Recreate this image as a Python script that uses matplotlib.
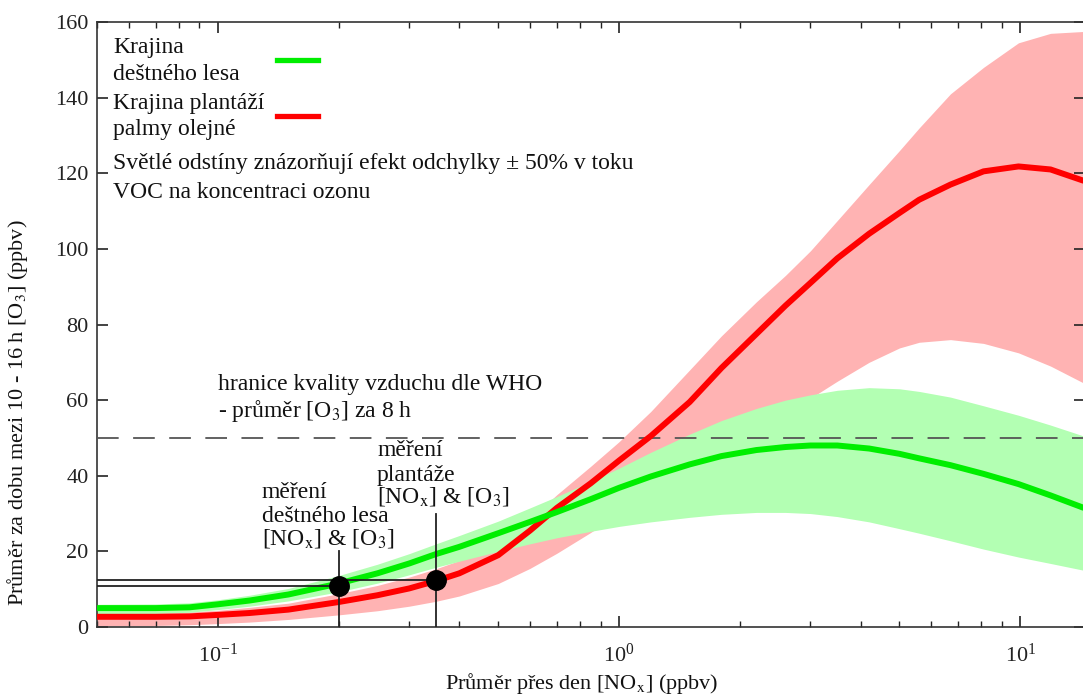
import matplotlib
matplotlib.use("Agg")
import matplotlib.pyplot as plt
from matplotlib.ticker import FixedLocator, LogLocator, NullFormatter

plt.rcParams['font.family'] = ['Liberation Serif', 'DejaVu Serif']
plt.rcParams['mathtext.fontset'] = 'stix'

# ---- data ----
nox = [0.05, 0.07, 0.085, 0.1, 0.12, 0.15, 0.2, 0.25, 0.3, 0.35, 0.4, 0.5, 0.6, 0.7, 0.85,
       1.0, 1.2, 1.5, 1.8, 2.2, 2.6, 3.0, 3.5, 4.2, 5.0, 5.6, 6.7, 8.1, 9.9, 11.9, 14.4]
rain_mean = [5.0, 5.0, 5.2, 6.0, 7.0, 8.6, 11.5, 14.2, 16.8, 19.3, 21.2, 24.8, 27.8, 30.4, 33.8,
             36.8, 39.8, 43.0, 45.2, 46.8, 47.6, 48.0, 48.0, 47.2, 45.8, 44.6, 42.8, 40.5, 37.8, 34.8, 31.5]
rain_hi = [6.0, 6.1, 6.4, 7.2, 8.4, 10.2, 13.6, 16.6, 19.4, 22.0, 24.2, 28.0, 31.5, 34.5, 38.5,
           42.0, 46.2, 51.0, 54.6, 57.8, 60.0, 61.4, 62.6, 63.3, 63.0, 62.3, 60.8, 58.5, 56.0, 53.4, 50.5]
rain_lo = [3.5, 3.6, 3.9, 4.6, 5.5, 6.9, 9.3, 11.6, 13.8, 15.8, 17.4, 20.0, 22.0, 23.6, 25.3,
           26.6, 27.8, 29.0, 29.8, 30.3, 30.3, 30.0, 29.2, 27.8, 26.0, 24.8, 22.8, 20.6, 18.5, 16.8, 15.0]
palm_mean = [2.7, 2.7, 2.8, 3.2, 3.7, 4.6, 6.6, 8.4, 10.2, 12.2, 14.2, 19.0, 25.5, 31.5, 38.0,
             44.0, 50.5, 59.5, 68.5, 77.5, 85.0, 91.0, 97.5, 104.0, 109.5, 113.0, 117.0, 120.5, 121.8, 121.0, 118.0]
palm_hi = [3.8, 3.8, 4.0, 4.4, 5.2, 6.3, 8.8, 11.0, 13.2, 15.4, 17.6, 22.5, 28.5, 35.0, 42.5,
           49.0, 57.0, 68.0, 77.0, 86.0, 93.0, 99.5, 107.5, 117.0, 126.0, 132.0, 141.0, 148.0, 154.5, 157.0, 157.5]
palm_lo = [0.3, 0.4, 0.6, 0.9, 1.3, 2.0, 3.2, 4.3, 5.5, 6.8, 8.2, 11.5, 15.5, 19.5, 25.0,
           30.0, 35.5, 41.5, 46.5, 52.0, 56.5, 60.5, 65.0, 70.0, 73.8, 75.3, 76.0, 75.0, 72.5, 69.0, 64.5]

meas_nox = [0.20, 0.35]
meas_o3 = [10.8, 12.3]
meas_top = [20, 30]
who_limit = 50
yticks = [0, 20, 40, 60, 80, 100, 120, 140, 160]

GREEN = '#00ee00'
RED = '#ff0000'
LGREEN = '#b3ffb3'
LRED = '#ffb3b3'

fig = plt.figure(figsize=(10.83, 6.96), dpi=100)
ax = fig.add_axes([97/1083, 69/696, (1085-97)/1083, 605/696])
ax.set_xscale('log')
ax.set_xlim(0.05, 14.5)
ax.set_ylim(0, 160)

ax.fill_between(nox, palm_lo, palm_hi, color=LRED, lw=0, zorder=1)
ax.fill_between(nox, rain_lo, rain_hi, color=LGREEN, lw=0, zorder=2)
ax.plot(nox, palm_mean, color=RED, lw=4.3, zorder=4, solid_capstyle='butt', solid_joinstyle='round')
ax.plot(nox, rain_mean, color=GREEN, lw=4.3, zorder=5, solid_capstyle='butt', solid_joinstyle='round')

ax.axhline(who_limit, color='#555555', lw=1.3, dashes=(12, 8), zorder=3)

# measurement lines
for xv, yv, top in zip(meas_nox, meas_o3, meas_top):
    ax.plot([0.05, xv], [yv, yv], color='#222222', lw=1.3, zorder=6)
    ax.plot([xv, xv], [0, top], color='#222222', lw=1.3, zorder=6)
ax.plot(meas_nox, meas_o3, 'o', color='black', ms=14, zorder=7)

# ticks
ax.yaxis.set_major_locator(FixedLocator(yticks))
ax.xaxis.set_major_locator(LogLocator(base=10, numticks=10))
ax.xaxis.set_minor_locator(LogLocator(base=10, subs=range(2, 10), numticks=20))
ax.xaxis.set_minor_formatter(NullFormatter())
ax.tick_params(which='both', direction='in', top=True, right=True, labelsize=16, colors='#222222')
ax.tick_params(which='major', length=8, width=1.2)
ax.tick_params(which='minor', length=4, width=1.0)
ax.tick_params(axis='x', pad=12)
ax.tick_params(axis='y', pad=6)
for s in ax.spines.values():
    s.set_linewidth(1.2)
    s.set_color('#333333')

def t(px, py, s, **kw):
    d = dict(fontsize=17, va='center', ha='left', color='#111111')
    d.update(kw)
    fig.text(px/1083, 1 - py/696, s, **d)

t(18, 413, 'Průměr za dobu mezi 10 - 16 h [O$_{\\mathrm{3}}$] (ppbv)', rotation=90, ha='center', fontsize=16)
t(582, 684, 'Průměr přes den [NO$_{\\mathrm{x}}$] (ppbv)', ha='center', fontsize=16)

t(113, 48, 'Krajina')
t(113, 75, 'deštného lesa')
t(113, 103, 'Krajina plantáží')
t(113, 130, 'palmy olejné')
t(113, 164, 'Světlé odstíny znázorňují efekt odchylky ± 50% v toku')
t(113, 192, 'VOC na koncentraci ozonu')
fig.add_artist(plt.Line2D([277/1083, 318/1083], [1-60/696, 1-60/696], color=GREEN, lw=3.8))
fig.add_artist(plt.Line2D([277/1083, 318/1083], [1-116/696, 1-116/696], color=RED, lw=3.8))

t(218, 385, 'hranice kvality vzduchu dle WHO')
t(218, 411, '- průměr [O$_{\\mathrm{3}}$] za 8 h')
t(262, 492, 'měření')
t(262, 517, 'deštného lesa')
t(262, 538, '[NO$_{\\mathrm{x}}$] & [O$_{\\mathrm{3}}$]')
t(377, 450, 'měření')
t(377, 475, 'plantáže')
t(377, 497, '[NO$_{\\mathrm{x}}$] & [O$_{\\mathrm{3}}$]')

fig.savefig('out.png', dpi=100)
